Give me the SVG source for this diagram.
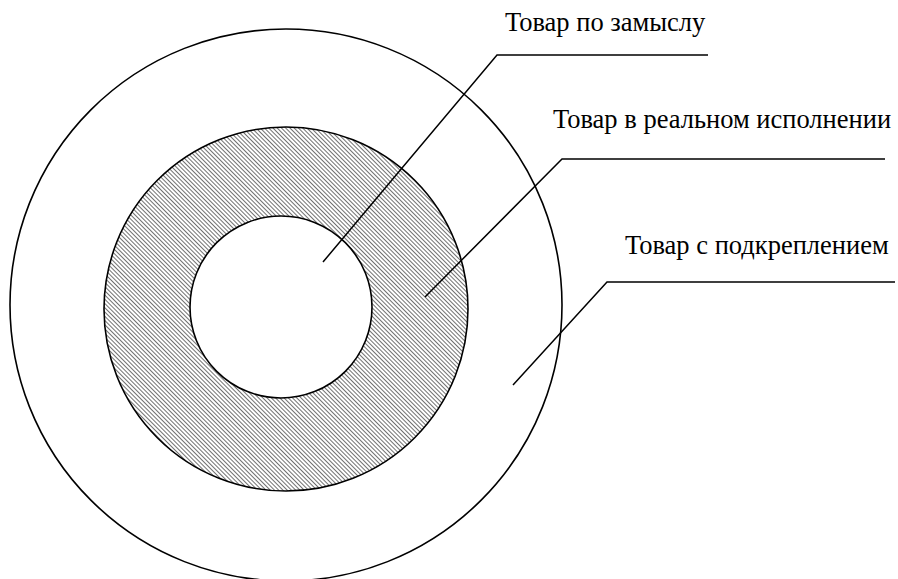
<svg xmlns="http://www.w3.org/2000/svg" width="898" height="579" viewBox="0 0 898 579">
<style>
.c{fill:none;stroke:#000;stroke-width:1.6}
.l{fill:none;stroke:#000;stroke-width:1.5}
.t{font-size:26.5px;fill:#000}
</style>
<defs>
<pattern id="hatch" patternUnits="userSpaceOnUse" width="3" height="3" patternTransform="rotate(-45)">
<rect width="3" height="3" fill="#fff"/>
<line x1="0" y1="0" x2="0" y2="3" stroke="#333" stroke-width="1.4"/>
</pattern>
</defs>
<rect width="898" height="579" fill="#fff"/>
<g id="outer"><circle class="c" cx="286" cy="305" r="276"/></g>
<g id="middle"><path d="M286,127 a182,182 0 1,0 0.01,0 Z M281,216 a91,91 0 1,1 -0.01,0 Z" fill="url(#hatch)" fill-rule="evenodd"/>
<circle class="c" cx="286" cy="309" r="182"/></g>
<g id="inner"><circle class="c" cx="281" cy="307" r="91" fill="#fff"/></g>
<g id="connectors">
<polyline class="l" points="323,262 497,55 708,55"/>
<polyline class="l" points="425,297 562,159 885,159"/>
<polyline class="l" points="513,385 607,282 895,282"/>
</g>
<g id="labels">
<text class="t" font-family="Liberation Serif, serif" x="505" y="31">Товар по замыслу</text>
<text class="t" font-family="Liberation Serif, serif" x="553" y="128">Товар в реальном исполнении</text>
<text class="t" font-family="Liberation Serif, serif" x="625" y="254">Товар с подкреплением</text>
</g>
</svg>
